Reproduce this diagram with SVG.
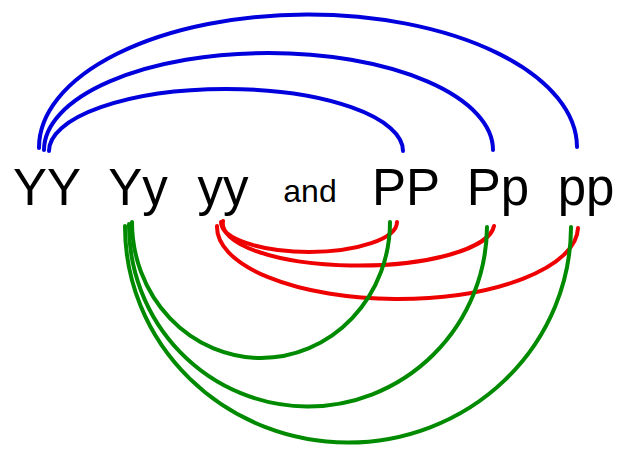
<svg xmlns="http://www.w3.org/2000/svg" width="626" height="454" viewBox="0 0 626 454">
<style>
.lbl{font-family:"Liberation Sans",Arial,sans-serif;font-size:51px;fill:#000;text-anchor:middle}
.sm{font-size:32px}
.c{fill:none;stroke-width:4;stroke-linecap:round}
.b{stroke:#0000dd}
.r{stroke:#ee0000}
.g{stroke:#008a00}
</style>
<rect width="626" height="454" fill="#fff"/>
<g id="connectors">
<path class="c b" d="M39 148 A269 133 0 0 1 577 147"/>
<path class="c b" d="M44 150 A224.5 97 0 0 1 493 150"/>
<path class="c b" d="M49 151 A177 62 0 0 1 403 151"/>
<path class="c r" d="M221 222 A88 30 0 0 0 397 222"/>
<path class="c r" d="M223 221 A135.5 42 0 0 0 494 226"/>
<path class="c r" d="M217 226 A180.5 72 0 0 0 578 228"/>
<path class="c g" d="M132 222 A129 136 0 0 0 390 222"/>
<path class="c g" d="M129 224 A179 181 0 0 0 487 227"/>
<path class="c g" d="M125 226 A223 216 0 0 0 571 227"/>
</g>
<g id="YY"><text class="lbl" x="47" y="205">YY</text></g>
<g id="Yy"><text class="lbl" x="138" y="205">Yy</text></g>
<g id="yy"><text class="lbl" x="223" y="205">yy</text></g>
<g id="and"><text class="lbl sm" x="310" y="202">and</text></g>
<g id="PP"><text class="lbl" x="406" y="205">PP</text></g>
<g id="Pp"><text class="lbl" x="498" y="205">Pp</text></g>
<g id="pp"><text class="lbl" x="586" y="205">pp</text></g>
</svg>
